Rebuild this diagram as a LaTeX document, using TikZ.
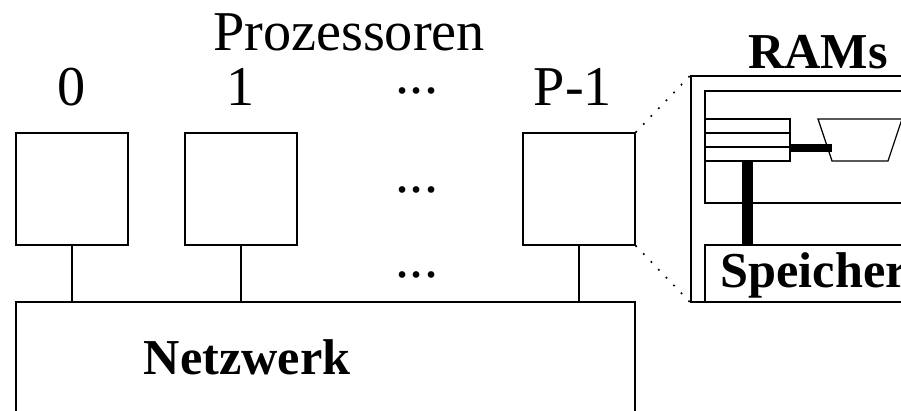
\documentclass[tikz,border=0pt]{standalone}
\usepackage{fontspec}
\setmainfont{Liberation Serif}
\usepackage{tikz}
\tikzstyle{box}=[draw,rectangle,inner sep=0pt,line width=0.35pt]
\tikzstyle{proc}=[box,minimum width=1.12cm,minimum height=1.12cm]
\tikzstyle{reg}=[box,minimum width=0.85cm,minimum height=0.14cm]
\tikzstyle{wire}=[line width=0.35pt]
\tikzstyle{zoomline}=[line width=0.45pt,dash pattern=on 0.5pt off 2.6pt]
\tikzstyle{title}=[anchor=base,inner sep=0pt,font=\fontsize{16}{16}\selectfont]
\tikzstyle{btitle}=[anchor=base,inner sep=0pt,font=\fontsize{14.3}{14.3}\selectfont\bfseries]

\begin{document}
\begin{tikzpicture}
\useasboundingbox (0,0) rectangle (9.01,4.11);
\clip (0,0) rectangle (9.01,4.11);
\node[proc] (P0) at (0.72,2.22) {};
\node[proc] (P1) at (2.41,2.22) {};
\node[proc] (PL) at (5.79,2.22) {};
\node[box,minimum width=6.19cm,minimum height=1.69cm] (Netz) at (3.255,0.245) {};
%
\node[title] (Proz) at (3.49,3.60) {Prozessoren};
\node[title] (T0) at (0.72,3.05) {0};
\node[title] (T1) at (2.41,3.05) {1};
\node[title] (TL) at (5.73,3.05) {P-1};
\node[title] (D1) at (4.17,3.17) {...};
\node[title] (D2) at (4.17,2.18) {...};
\node[title] (D3) at (4.17,1.33) {...};
\node[btitle] (NetzT) at (2.47,0.36) {Netzwerk};
\draw[wire] (P0.south)--(P0.south |- Netz.north);
\draw[wire] (P1.south)--(P1.south |- Netz.north);
\draw[wire] (PL.south)--(PL.south |- Netz.north);
%the RAM on the right
\node[box,minimum width=2.59cm,minimum height=2.26cm] (Ram) at (8.205,2.22) {};
\node[box,minimum width=2.65cm,minimum height=1.12cm] (Cpu) at (8.375,2.64) {};
\node[box,minimum width=2.65cm,minimum height=0.57cm] (Spei) at (8.375,1.375) {};
\node[btitle] (RamT) at (8.18,3.42) {RAMs};
\node[btitle,anchor=base west] (SpeiT) at (7.20,1.23) {Speicher};
\node[reg] (R1) at (7.475,2.85) {};
\node[reg] (R2) at (7.475,2.71) {};
\node[reg] (R3) at (7.475,2.57) {};
\coordinate (AA) at (8.18,2.92);
\coordinate (AB) at (9.02,2.92);
\coordinate (AC) at (8.88,2.50);
\coordinate (AD) at (8.32,2.50);
\coordinate (AE) at (8.32,2.64);
\draw[wire] (AA)--(AB)--(AC)--(AD)--cycle;
\draw[line width=0.08cm] (R2.south east)--(R2.south east -| AE);
\draw[line width=0.11cm] (R3.south)--(R3.south |- Spei.north);
\draw[zoomline] (PL.north east)--(Ram.north west);
\draw[zoomline] (PL.south east)--(Ram.south west);
\end{tikzpicture}
\end{document}
